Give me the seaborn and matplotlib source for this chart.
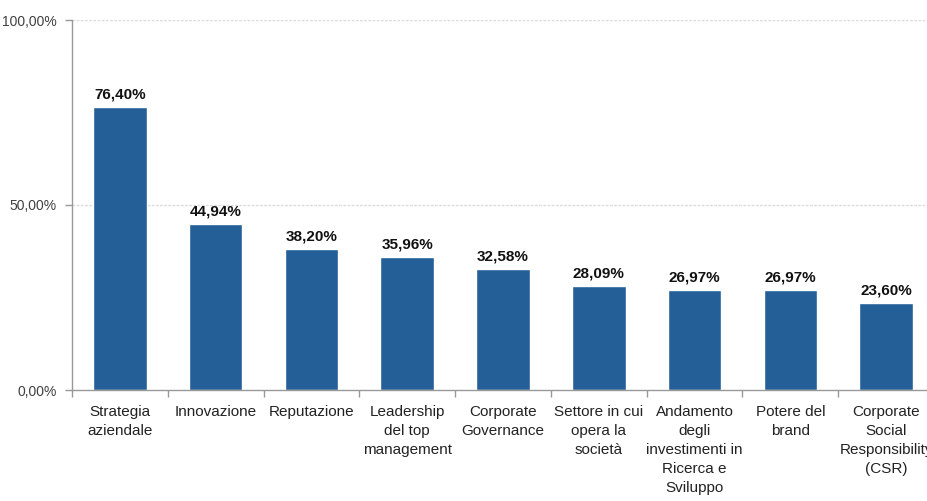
import matplotlib
matplotlib.use("Agg")
import matplotlib.pyplot as plt
import matplotlib.ticker as mticker
import seaborn as sns
import pandas as pd

categories = [
    "Strategia\naziendale",
    "Innovazione",
    "Reputazione",
    "Leadership\ndel top\nmanagement",
    "Corporate\nGovernance",
    "Settore in cui\nopera la\nsocietà",
    "Andamento\ndegli\ninvestimenti in\nRicerca e\nSviluppo",
    "Potere del\nbrand",
    "Corporate\nSocial\nResponsibility\n(CSR)",
]
values = [76.40, 44.94, 38.20, 35.96, 32.58, 28.09, 26.97, 26.97, 23.60]
y_ticks = [0, 50, 100]

bar_color = "#245F97"

df = pd.DataFrame({"categoria": categories, "valore": values})

sns.set_style("white")
plt.rcParams["font.family"] = ["Liberation Sans", "DejaVu Sans"]

fig = plt.figure(figsize=(9.28, 5.01), dpi=100)
# the original is cropped on the right, so the axes run a bit past the figure
ax = fig.add_axes([72 / 928, 111 / 501, 862 / 928, 370 / 501])

sns.barplot(data=df, x="categoria", y="valore", color=bar_color,
            width=0.56, saturation=1, ax=ax)

ax.set_ylim(0, 100)
ax.set_xlim(-0.5, len(categories) - 0.5)
ax.set_yticks(y_ticks)
ax.yaxis.set_major_formatter(
    mticker.FuncFormatter(lambda v, p: f"{v:.2f}%".replace(".", ",")))
ax.tick_params(axis="y", labelsize=10, labelcolor="#404040", length=5,
               width=1, color="#999999", pad=6, left=True)
ax.tick_params(axis="x", which="major", length=0, labelsize=11,
               labelcolor="#222222", pad=11)
ax.set_xticks([i - 0.5 for i in range(len(categories) + 1)], minor=True)
ax.tick_params(axis="x", which="minor", length=5, width=1, color="#999999",
               bottom=True)
for lab in ax.get_xticklabels():
    lab.set_linespacing(1.45)

ax.set_xlabel("")
ax.set_ylabel("")

for gy in y_ticks[1:]:
    ax.axhline(gy, color="#dcdcdc", lw=1, ls=(0, (2, 1)), zorder=0)

for side in ["top", "right"]:
    ax.spines[side].set_visible(False)
for side in ["left", "bottom"]:
    ax.spines[side].set_color("#999999")
    ax.spines[side].set_linewidth(1)

ax.bar_label(ax.containers[0],
             labels=[f"{v:.2f}%".replace(".", ",") for v in values],
             padding=4, fontsize=11, fontweight="bold", color="#111111")

fig.savefig("out.png", dpi=100)
